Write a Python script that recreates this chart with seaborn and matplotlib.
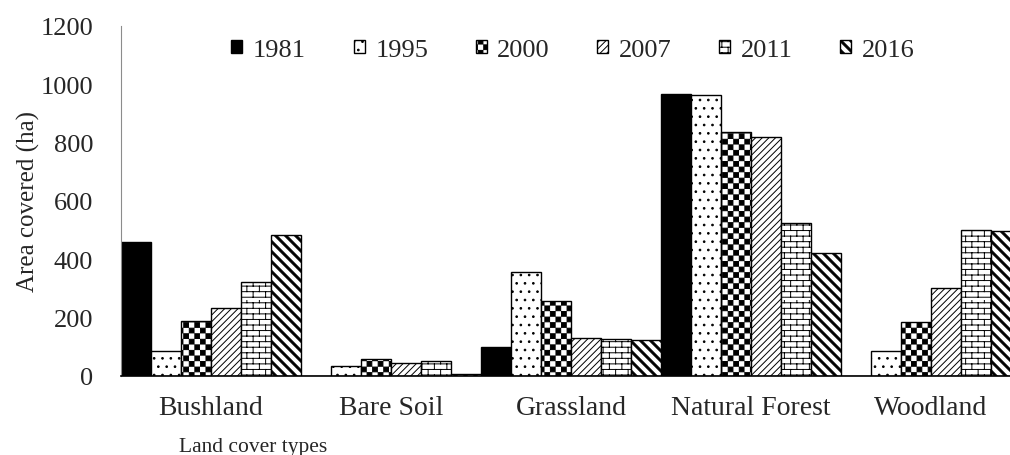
import numpy as np
import pandas as pd
import seaborn as sns
import matplotlib.pyplot as plt
import matplotlib.hatch as mhatch
from matplotlib.path import Path

land = ['Bushland', 'Bare Soil', 'Grassland', 'Natural Forest', 'Woodland']
years = ['1981', '1995', '2000', '2007', '2011', '2016']
area_1981 = [460, 0, 98, 967, 0]
area_1995 = [87, 35, 355, 964, 87]
area_2000 = [190, 60, 258, 835, 184]
area_2007 = [232, 43, 129, 820, 302]
area_2011 = [321, 50, 127, 524, 500]
area_2016 = [483, 7, 123, 421, 498]


# ---- extra hatch patterns (checkerboard, bricks, thick diagonal) ----

class CheckerHatch(mhatch.HatchPatternBase):
    # '*' -> filled checkerboard
    def __init__(self, hatch, density):
        self.n = 18 if '*' in hatch else 0
        self.num_vertices = (self.n * self.n // 2) * 5

    def set_vertices_and_codes(self, vertices, codes):
        s = 1.0 / self.n
        m = 0.004
        i = 0
        for r in range(self.n):
            for c in range(r % 2, self.n, 2):
                x0, y0 = c * s + m, r * s + m
                x1, y1 = (c + 1) * s - m, (r + 1) * s - m
                vertices[i:i + 5] = [(x0, y0), (x1, y0), (x1, y1), (x0, y1), (x0, y0)]
                codes[i:i + 5] = [Path.MOVETO, Path.LINETO, Path.LINETO, Path.LINETO, Path.CLOSEPOLY]
                i += 5


class BrickHatch(mhatch.HatchPatternBase):
    # 'o' -> brick wall
    def __init__(self, hatch, density):
        self.rows = 18 if 'o' in hatch else 0
        self.cols = 8
        self.num_vertices = self.rows * 2 * (self.cols + 1)

    def set_vertices_and_codes(self, vertices, codes):
        h = 1.0 / self.rows
        w = 1.0 / self.cols
        i = 0
        for r in range(self.rows):
            y = (r + 0.5) * h
            vertices[i:i + 2] = [(0, y), (1, y)]
            codes[i:i + 2] = [Path.MOVETO, Path.LINETO]
            i += 2
            for c in range(self.cols):
                x = (c + 0.25 + 0.5 * (r % 2)) * w
                vertices[i:i + 2] = [(x, y), (x, y + h)]
                codes[i:i + 2] = [Path.MOVETO, Path.LINETO]
                i += 2


class BandHatch(mhatch.HatchPatternBase):
    # '\\' -> wide spaced thick diagonal bands
    def __init__(self, hatch, density):
        self.n = 10 if '\\' in hatch else 0
        self.num_vertices = (2 * self.n + 3) * 5 if self.n else 0

    def set_vertices_and_codes(self, vertices, codes):
        hw = 0.014
        i = 0
        for k in range(-1, 2 * self.n + 2):
            c = k / self.n
            vertices[i:i + 5] = [(-0.1, c - hw + 0.1), (1.1, c - hw - 1.1),
                                 (1.1, c + hw - 1.1), (-0.1, c + hw + 0.1), (-0.1, c - hw + 0.1)]
            codes[i:i + 5] = [Path.MOVETO, Path.LINETO, Path.LINETO, Path.LINETO, Path.CLOSEPOLY]
            i += 5


mhatch._hatch_types = [mhatch.NorthEastHatch, mhatch.SmallFilledCircles,
                       CheckerHatch, BrickHatch, BandHatch]

hatches = {'1981': '', '1995': '..', '2000': '*', '2007': '/////', '2011': 'o', '2016': '\\'}
colors = {'1981': 'black', '1995': 'white', '2000': 'white',
          '2007': 'white', '2011': 'white', '2016': 'white'}

series = [area_1981, area_1995, area_2000, area_2007, area_2011, area_2016]
df = pd.DataFrame({
    'land': np.tile(land, len(years)),
    'year': np.repeat(years, len(land)),
    'area': np.concatenate(series),
})

sns.set_style('white')
plt.rcParams['font.family'] = ['Liberation Serif', 'DejaVu Serif']
plt.rcParams['hatch.linewidth'] = 0.7

fig = plt.figure(figsize=(10.1, 4.56), dpi=100)
ax = fig.add_axes([121 / 1010, 79 / 456, 900 / 1010, 350 / 456])

sns.barplot(data=df, x='land', y='area', hue='year', hue_order=years, order=land,
            palette=colors, width=1.0, edgecolor='black', linewidth=1.0,
            errorbar=None, legend=False, ax=ax)

handles = []
for year, cont in zip(years, ax.containers):
    for p in cont.patches:
        p.set_hatch(hatches[year])
        p.set_edgecolor('black')
    handles.append(cont.patches[0])

ax.set_xlim(-0.5, 4.5)
ax.set_ylim(0, 1200)
ax.set_yticks(range(0, 1201, 200))
ax.tick_params(axis='y', length=0, pad=20, labelsize=19)
ax.tick_params(axis='x', length=0, pad=14, labelsize=20)
ax.set_xlabel('')
ax.set_ylabel('')

for side in ['top', 'right']:
    ax.spines[side].set_visible(False)
ax.spines['left'].set_color('#8c8c8c')
ax.spines['left'].set_linewidth(0.8)
ax.spines['bottom'].set_color('black')
ax.spines['bottom'].set_linewidth(1.2)

ax.legend(handles, years, loc='center', bbox_to_anchor=(573 / 1010, 1 - 51 / 456),
          bbox_transform=fig.transFigure, ncol=6, frameon=False, fontsize=19,
          handlelength=0.42, handleheight=0.42, handletextpad=0.4,
          columnspacing=1.8, borderpad=0, borderaxespad=0)

fig.text(28 / 1010, 1 - 202 / 456, 'Area covered (ha)', rotation=90,
         ha='center', va='center', fontsize=18)
fig.text(253 / 1010, 4 / 456, 'Land cover types', ha='center', va='baseline', fontsize=15.5)

fig.savefig('out.png', dpi=100)
